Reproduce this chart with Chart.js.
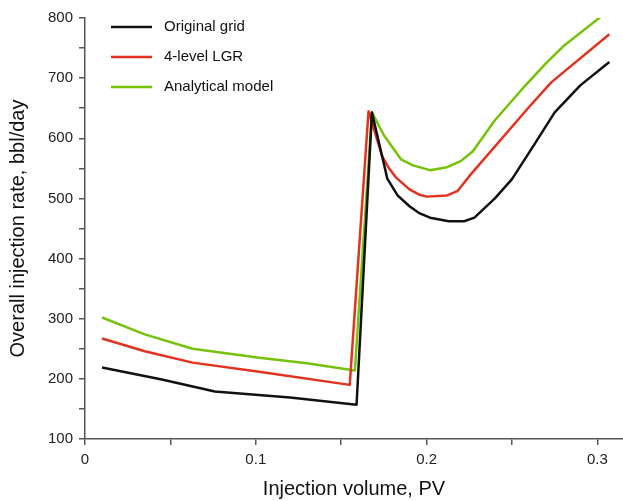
<!DOCTYPE html>
<html>
<head>
<meta charset="utf-8">
<script src="https://cdn.jsdelivr.net/npm/chart.js@4"></script>
<style>
  html, body { margin: 0; padding: 0; background: #fff; }
  #wrap { width: 623px; height: 501px; }
</style>
</head>
<body>
<div id="wrap"><canvas id="chart" width="623" height="501"></canvas></div>
<script>
// series names
const seriesNames = ["Original grid", "4-level LGR", "Analytical model"];

// Original grid
const gridX = [0.01, 0.045, 0.076, 0.12, 0.159, 0.168, 0.177, 0.183, 0.19, 0.196, 0.202, 0.213, 0.222, 0.228, 0.24, 0.25, 0.262, 0.275, 0.29, 0.307];
const gridY = [219, 199, 179, 169, 157, 643, 533, 505, 487, 475, 468, 462, 462, 468, 500, 532, 585, 643, 688, 727];

// 4-level LGR
const lgrX = [0.01, 0.035, 0.063, 0.102, 0.155, 0.166, 0.174, 0.178, 0.182, 0.19, 0.196, 0.2, 0.212, 0.218, 0.225, 0.26, 0.273, 0.307];
const lgrY = [267, 246, 227, 212, 190, 645, 570, 550, 535, 515, 506, 503, 505, 512, 537, 652, 693, 773];

// Analytical model
const anaX = [0.01, 0.035, 0.063, 0.102, 0.13, 0.158, 0.168, 0.175, 0.185, 0.192, 0.202, 0.212, 0.22, 0.227, 0.24, 0.256, 0.27, 0.28, 0.302];
const anaY = [302, 274, 250, 235, 226, 214, 643, 605, 565, 555, 547, 552, 562, 578, 630, 682, 725, 753, 802];

const lineColors = ["#111111", "#e3321f", "#76c20b"];

const xTicks = [0, 0.1, 0.2, 0.3];
const yTicks = [100, 200, 300, 400, 500, 600, 700, 800];

function toPoints(xs, ys) {
  return xs.map((x, i) => ({ x: x, y: ys[i] }));
}

const font = "'Liberation Sans', Arial, sans-serif";

// legend drawn inside the plot, top left
const innerLegend = {
  id: "innerLegend",
  afterDraw(chart) {
    const ctx = chart.ctx;
    ctx.save();
    ctx.font = "15px " + font;
    ctx.textBaseline = "middle";
    chart.data.datasets.forEach((ds, i) => {
      const y = 27 + i * 30;
      ctx.strokeStyle = ds.borderColor;
      ctx.lineWidth = 2.5;
      ctx.beginPath();
      ctx.moveTo(111, y);
      ctx.lineTo(152, y);
      ctx.stroke();
      ctx.fillStyle = "#111";
      ctx.fillText(ds.label, 164, y);
    });
    ctx.restore();
  }
};

const ctx = document.getElementById("chart").getContext("2d");
new Chart(ctx, {
  type: "line",
  data: {
    datasets: [
      { label: seriesNames[0], data: toPoints(gridX, gridY) },
      { label: seriesNames[1], data: toPoints(lgrX, lgrY) },
      { label: seriesNames[2], data: toPoints(anaX, anaY) }
    ].map((ds, i) => Object.assign(ds, {
      borderColor: lineColors[i],
      backgroundColor: lineColors[i],
      borderWidth: 2.5,
      borderJoinStyle: "round",
      pointRadius: 0,
      tension: 0,
      fill: false
    }))
  },
  options: {
    responsive: false,
    animation: false,
    layout: { padding: { top: 18, right: 0, left: 0, bottom: 0 } },
    plugins: { legend: { display: false }, tooltip: { enabled: false } },
    scales: {
      x: {
        type: "linear",
        min: 0,
        max: 0.315,
        afterBuildTicks: (scale) => {
          scale.ticks = scale.ticks.filter(t => Math.abs(t.value * 20 - Math.round(t.value * 20)) < 1e-6);
        },
        afterFit: (scale) => { scale.height = 62; },
        ticks: {
          stepSize: 0.05,
          includeBounds: false,
          autoSkip: false,
          maxRotation: 0,
          padding: 6,
          color: "#222",
          font: { family: font, size: 15 },
          callback: (v) => {
            const hit = xTicks.find(t => Math.abs(t - v) < 1e-6);
            return hit === undefined ? "" : String(hit);
          }
        },
        grid: { drawOnChartArea: false, drawTicks: true, tickLength: 6, color: "#555", lineWidth: 1.5 },
        border: { color: "#555", width: 1.5 },
        title: {
          display: true,
          text: "Injection volume, PV",
          color: "#111",
          font: { family: font, size: 20 },
          padding: { top: 2, bottom: 0 }
        }
      },
      y: {
        min: 100,
        max: 800,
        afterFit: (scale) => { scale.width = 85; },
        ticks: {
          stepSize: 50,
          padding: 6,
          color: "#222",
          font: { family: font, size: 15 },
          callback: (v) => yTicks.includes(v) ? String(v) : ""
        },
        grid: { drawOnChartArea: false, drawTicks: true, tickLength: 6, color: "#555", lineWidth: 1.5 },
        border: { color: "#555", width: 1.5 },
        title: {
          display: true,
          text: "Overall injection rate, bbl/day",
          color: "#111",
          font: { family: font, size: 20 },
          padding: { top: 6, bottom: 2 }
        }
      }
    }
  },
  plugins: [innerLegend]
});
</script>
</body>
</html>
